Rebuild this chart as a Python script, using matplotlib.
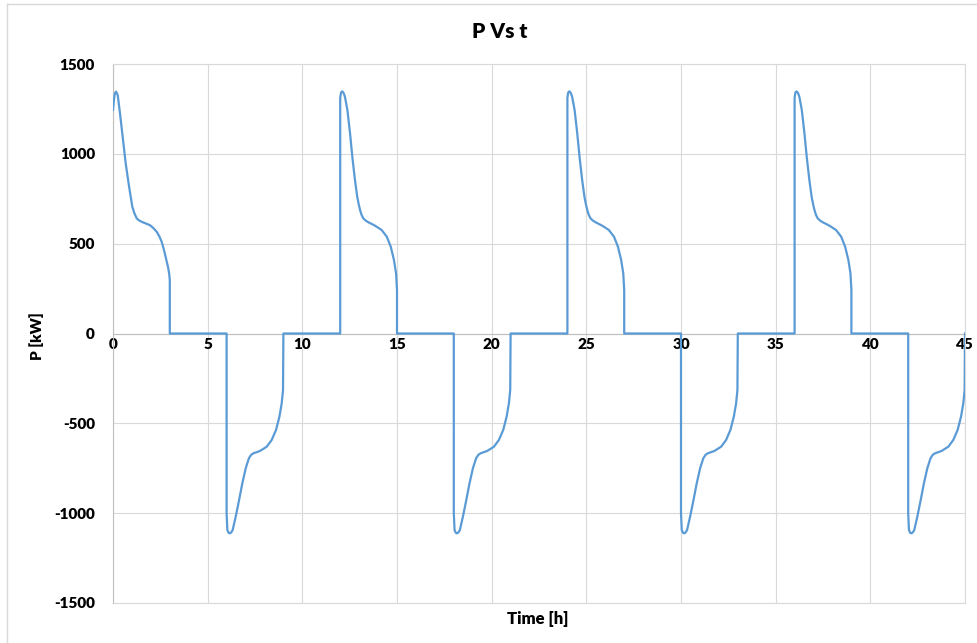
import numpy as np
import matplotlib
matplotlib.use("Agg")
import matplotlib.pyplot as plt
from matplotlib.lines import Line2D

plt.rcParams['font.family'] = ['Lato', 'DejaVu Sans']
plt.rcParams['axes.unicode_minus'] = False

# Power profile of the storage unit, one 12 h cycle = charge (0-3 h), idle, discharge (6-9 h), idle
cycle_starts = [0, 12, 24, 36]
discharge_offset = 6

# first charge starts already at full power (no step from zero)
first_charge_t = [0.00, 0.05, 0.10, 0.16, 0.25, 0.37, 0.51, 0.67, 0.85, 1.02, 1.12, 1.25,
                  1.37, 1.51, 1.95, 2.10, 2.31, 2.45, 2.57, 2.68, 2.78, 2.85, 2.92, 2.97, 3.00, 3.00]
first_charge_p = [1244, 1300, 1337, 1346, 1327, 1225, 1095, 947, 817, 706, 672, 641,
                  630, 622, 603, 590, 566, 540, 511, 470, 427, 395, 363, 330, 298, 0]

charge_t = [0.00, 0.00, 0.04, 0.09, 0.13, 0.19, 0.25, 0.38, 0.52, 0.64, 0.78, 0.90, 0.98,
            1.05, 1.13, 1.22, 1.35, 1.49, 1.84, 2.19, 2.46, 2.67, 2.84, 2.95, 3.00, 3.00]
charge_p = [0, 1311, 1340, 1347, 1346, 1336, 1318, 1244, 1114, 984, 854, 761, 718,
            687, 660, 641, 628, 619, 600, 576, 539, 483, 409, 335, 242, 0]

discharge_t = [0.00, 0.00, 0.04, 0.11, 0.18, 0.25, 0.32, 0.48, 0.66, 0.83, 1.01, 1.18,
               1.30, 1.41, 1.76, 2.12, 2.38, 2.61, 2.79, 2.91, 2.98, 3.00]
discharge_p = [0, -1000, -1094, -1110, -1112, -1106, -1094, -1020, -927, -834, -750, -694,
               -675, -667, -654, -630, -593, -537, -463, -389, -315, 0]

x_ticks = [0, 5, 10, 15, 20, 25, 30, 35, 40, 45]
y_ticks = [-1500, -1000, -500, 0, 500, 1000, 1500]

# assemble the full time series
t_parts, p_parts = [], []
for i, start in enumerate(cycle_starts):
    if i == 0:
        t_parts.append(np.array(first_charge_t) + start)
        p_parts.append(np.array(first_charge_p))
    else:
        t_parts.append(np.array(charge_t) + start)
        p_parts.append(np.array(charge_p))
    t_parts.append(np.array(discharge_t) + start + discharge_offset)
    p_parts.append(np.array(discharge_p))
t_all = np.concatenate(t_parts)
p_all = np.concatenate(p_parts)

W, H = 977, 643
fig = plt.figure(figsize=(W / 100, H / 100), dpi=100)
left, right, top, bottom = 113, 965, 64, 603
ax = fig.add_axes([left / W, 1 - bottom / H, (right - left) / W, (bottom - top) / H])

grid_c = '#D9D9D9'
ax.set_xlim(0, 45)
ax.set_ylim(-1500, 1500)
ax.set_xticks(x_ticks)
ax.set_yticks(y_ticks)
ax.grid(True, color=grid_c, linewidth=0.8, zorder=0)
ax.set_axisbelow(True)

for side in ['top', 'right']:
    ax.spines[side].set_color(grid_c)
    ax.spines[side].set_linewidth(0.8)
ax.spines['left'].set_color('#BFBFBF')
ax.spines['left'].set_linewidth(0.8)
ax.spines['bottom'].set_position(('data', 0))
ax.spines['bottom'].set_color('#BFBFBF')
ax.spines['bottom'].set_linewidth(0.8)
# bottom frame line at -1500
ax.axhline(-1500, color=grid_c, linewidth=0.8, zorder=0, clip_on=False)

ax.tick_params(axis='both', length=0)
ax.tick_params(axis='x', pad=3, labelsize=11)
ax.tick_params(axis='y', pad=13, labelsize=11)
for lab in ax.get_xticklabels() + ax.get_yticklabels():
    lab.set_fontweight('heavy')

ax.plot(t_all, p_all, color='#5B9BD5', linewidth=1.6, zorder=3, solid_joinstyle='round')

fig.text(500 / W, 1 - 31 / H, 'P Vs t', ha='center', va='center',
         fontsize=15, fontweight='heavy')
fig.text(538 / W, 1 - 619 / H, 'Time [h]', ha='center', va='center',
         fontsize=12, fontweight='heavy')
fig.text(37 / W, 1 - 336 / H, 'P [kW]', ha='center', va='center',
         fontsize=11, fontweight='heavy', rotation=90)

# chart-area frame
fig.add_artist(Line2D([7 / W, 7 / W], [0, 1 - 4 / H], transform=fig.transFigure,
                      color=grid_c, linewidth=1.0))
fig.add_artist(Line2D([7 / W, 1], [1 - 4 / H, 1 - 4 / H], transform=fig.transFigure,
                      color=grid_c, linewidth=1.0))

fig.savefig('out.png', dpi=100)
